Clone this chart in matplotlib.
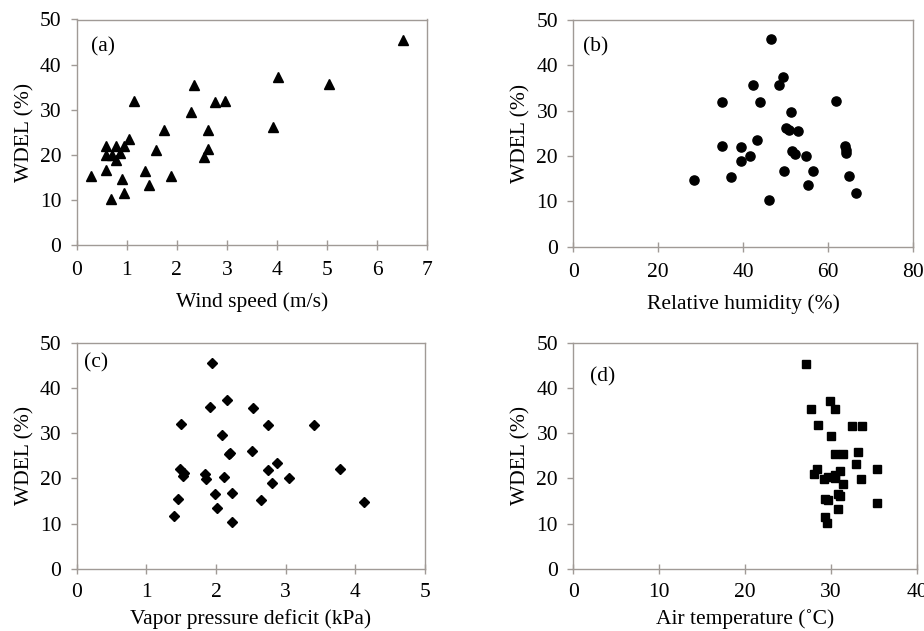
import matplotlib
matplotlib.use("Agg")
import matplotlib.pyplot as plt

plt.rcParams["font.family"] = ["Liberation Serif", "DejaVu Serif"]

# ── data ──
wind = [6.52, 4.02, 5.05, 2.35, 1.15, 2.77, 2.97, 2.29, 3.93, 1.75,
        2.63, 1.05, 0.58, 0.79, 0.95, 1.59, 2.62, 0.59, 0.71, 0.86,
        0.79, 2.55, 0.29, 0.59, 1.37, 1.88, 0.90, 1.44, 0.94, 0.69]
wdel_a = [45.5, 37.2, 35.7, 35.4, 31.9, 31.8, 31.9, 29.5, 26.1, 25.5,
          25.5, 23.4, 21.9, 22.0, 22.0, 21.0, 21.3, 19.9, 20.0, 20.4,
          18.9, 19.6, 15.3, 16.6, 16.4, 15.4, 14.6, 13.4, 11.6, 10.1]

rh = [46.5, 49.3, 48.5, 42.3, 35.1, 44.0, 61.7, 51.2, 50.0, 50.7,
      52.9, 43.2, 34.9, 39.5, 41.5, 39.5, 51.5, 52.1, 54.8, 64.0,
      64.1, 64.1, 28.5, 37.2, 49.6, 56.3, 64.8, 55.2, 66.4, 46.0]
wdel_b = [45.8, 37.4, 35.7, 35.6, 31.9, 31.9, 32.1, 29.6, 26.1, 25.8,
          25.6, 23.6, 22.2, 22.0, 20.1, 19.0, 21.2, 20.4, 20.0, 22.2,
          21.3, 20.6, 14.7, 15.3, 16.7, 16.6, 15.6, 13.6, 11.8, 10.3]

vpd = [1.94, 2.16, 1.92, 2.53, 1.50, 2.74, 3.40, 2.08, 2.20, 2.52,
       2.88, 1.49, 1.54, 1.52, 1.84, 1.86, 2.12, 2.74, 3.05, 2.80,
       3.78, 1.46, 1.98, 2.23, 2.64, 4.12, 2.01, 1.40, 2.23, 2.18]
wdel_c = [45.6, 37.3, 35.7, 35.5, 32.1, 31.9, 31.9, 29.5, 25.6, 26.1,
          23.4, 22.2, 21.3, 20.5, 21.1, 19.9, 20.3, 21.9, 20.1, 19.0,
          22.1, 15.4, 16.5, 16.7, 15.2, 14.7, 13.4, 11.6, 10.3, 25.4]

temp = [27.1, 29.9, 30.4, 27.7, 28.5, 32.4, 33.6, 30.0, 30.5, 31.4,
        33.1, 32.9, 28.4, 28.0, 31.0, 35.4, 29.2, 29.7, 30.4, 30.5,
        33.5, 31.4, 30.8, 29.6, 29.3, 35.4, 30.8, 29.3, 29.5, 31.0]
wdel_d = [45.4, 37.1, 35.4, 35.4, 31.8, 31.6, 31.6, 29.3, 25.5, 25.3,
          25.9, 23.3, 22.0, 21.0, 21.7, 22.0, 19.9, 20.4, 20.7, 20.2,
          19.9, 18.8, 16.5, 15.2, 15.4, 14.6, 13.3, 11.5, 10.2, 16.2]

panels = [
    (wind, wdel_a, "^", 7, 1, "Wind speed (m/s)", "(a)"),
    (rh, wdel_b, "o", 80, 20, "Relative humidity (%)", "(b)"),
    (vpd, wdel_c, "D", 5, 1, "Vapor pressure deficit (kPa)", "(c)"),
    (temp, wdel_d, "s", 40, 10, "Air temperature (\u02daC)", "(d)"),
]

# axes rects in pixels: left, right, top, bottom
W, H = 924, 631
rects = [(76.7, 427, 19.5, 245), (573.3, 913.3, 20, 246.7),
         (76.7, 425, 342.7, 569), (573.3, 917, 342.7, 569)]
msize = {"^": 7.5, "o": 6.6, "D": 5.0, "s": 6.3}
label_pos = {"(a)": (0.04, 0.86), "(b)": (0.03, 0.86), "(c)": (0.02, 0.89), "(d)": (0.05, 0.83)}

fig = plt.figure(figsize=(W / 100, H / 100), dpi=100)
frame = "#a09a96"
fs = 15.5

for i, ((x, y, mk, xmax, xstep, xlabel, tag), (l, r, t, b)) in enumerate(zip(panels, rects)):
    top_row = i < 2
    ax = fig.add_axes([l / W, 1 - b / H, (r - l) / W, (b - t) / H])
    ax.plot(x, y, linestyle="none", marker=mk, markersize=msize[mk], color="black")
    ax.set_xlim(0, xmax)
    ax.set_ylim(0, 50)
    ax.set_xticks(range(0, xmax + 1, xstep))
    ax.set_yticks(range(0, 51, 10))
    for s in ax.spines.values():
        s.set_color(frame)
        s.set_linewidth(1.0)
    ax.tick_params(axis="x", color=frame, labelsize=fs, length=7, direction="inout", width=1.0,
                   pad=8 if top_row else 6.5)
    ax.tick_params(axis="y", color=frame, labelsize=fs, length=4, direction="out", width=1.0, pad=7)
    ax.set_xlabel(xlabel, fontsize=fs, labelpad=9 if top_row else 5.5)
    ax.set_ylabel("WDEL (%)", fontsize=fs, labelpad=4)
    ax.text(*label_pos[tag], tag, transform=ax.transAxes, fontsize=fs)

fig.savefig("out.png", dpi=100, facecolor="white")
